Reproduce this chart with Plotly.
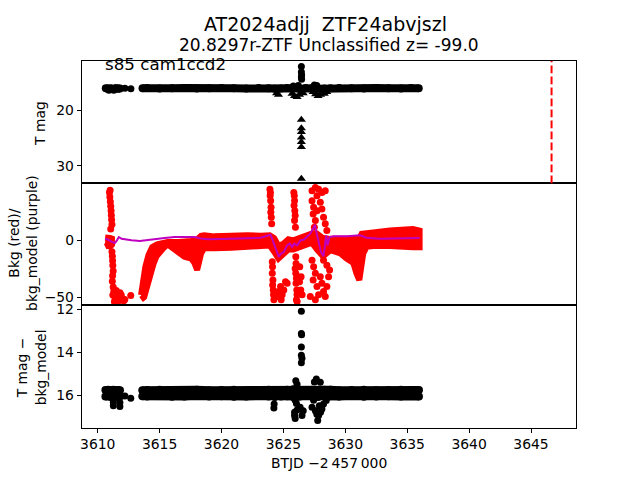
import plotly.graph_objects as go

# ---------------- data ----------------
# top panel: T mag light curve (band nodes, None = gap)
tmag_t = [3610.65, 3610.85, 3611.05, 3611.25, 3611.45, 3611.65, 3611.8, None,
          3613.62, 3614.0, 3615.0, 3616.0, 3617.0, 3618.0, 3619.0, 3620.0, 3621.0, 3622.0,
          3623.0, 3623.8, 3624.3, 3624.8, 3625.3, 3625.8, 3626.3, 3626.8, 3627.3, 3627.8,
          3628.3, 3628.8, 3629.5, 3630.5, 3631.5, 3632.5, 3633.5, 3634.5, 3635.3, 3635.93]
tmag_v = [16.0, 16.1, 16.0, 16.15, 16.0, 16.1, 16.05, None,
          16.0, 15.95, 16.05, 16.0, 15.95, 16.05, 16.0, 15.95, 16.0, 16.05,
          15.95, 16.0, 16.1, 16.05, 15.95, 16.0, 16.1, 15.95, 16.0, 16.1,
          16.05, 16.0, 15.95, 16.0, 16.05, 15.95, 16.0, 16.05, 15.95, 16.0]
# top panel: individual detections
tpts_t = [3610.9, 3611.3, 3612.2, 3612.68, 3625.8, 3626.2, 3627.5, 3627.7,
          3626.45, 3626.45, 3626.47, 3626.45, 3626.47]
tpts_v = [16.35, 16.35, 16.0, 16.1, 15.6, 15.5, 15.4, 15.5,
          12.1, 13.1, 13.6, 14.0, 14.4]
# top panel: upper limits (triangles)
tlim_t = [3624.45, 3624.6, 3625.7, 3625.9, 3626.1, 3626.3, 3626.6, 3627.4, 3627.6,
          3627.8, 3628.0, 3628.3, 3628.5,
          3626.45, 3626.45, 3626.45, 3626.45, 3626.45, 3626.45, 3626.45]
tlim_v = [16.9, 17.2, 17.0, 17.4, 17.6, 17.2, 16.9, 16.7, 17.1,
          17.4, 17.2, 17.0, 16.7,
          21.7, 23.2, 23.9, 24.9, 25.7, 26.6, 32.3]
peak_t = 3646.66

# middle panel: background (red) scatter envelope (upper / lower edge)
bkg_left_t = [3610.6, 3610.8, 3611.0, 3611.15]
bkg_left_hi = [2.5, 2.7, 2.0, 1.5]
bkg_left_lo = [-5.5, -4.5, -5.7, -4.0]
bkg_hi_t = [3613.5, 3613.65, 3613.85, 3614.1, 3614.4, 3614.8, 3615.25, 3615.65, 3616.5,
            3617.0, 3617.55, 3617.8, 3618.03, 3618.15, 3618.35, 3618.6, 3619.4, 3620.8,
            3622.1, 3623.2, 3623.9, 3624.25, 3624.6, 3625.0, 3625.4, 3625.8, 3626.3,
            3626.8, 3627.3, 3627.7, 3628.2, 3628.8, 3629.6, 3630.65, 3631.13, 3631.32,
            3631.72, 3632.25, 3633.6, 3634.9, 3635.46, 3636.0]
bkg_hi = [-48, -35, -23, -13, -6, -3.5, -2.5, -1.5, -1.5,
          -1.5, -0.5, 0, 1, 2, 4, 4.5, 3.5, 4.5,
          4.5, 4, 4.5, 2, -5, -3, 1, 0, 2,
          4, 6, 6, 2, 1.3, 1.3, 1.3, 1.5, 5.7,
          6.5, 7, 8.6, 9.5, 10, 8.6]
bkg_lo_t = [3613.5, 3613.75, 3614.0, 3614.25, 3614.5, 3614.75, 3615.0, 3615.3, 3615.65,
            3615.95, 3616.5, 3617.0, 3617.55, 3617.8, 3618.03, 3618.15, 3618.35, 3618.6,
            3619.4, 3620.8, 3622.1, 3623.2, 3623.9, 3624.25, 3624.6, 3625.0, 3625.4,
            3625.8, 3626.3, 3626.8, 3627.3, 3627.7, 3628.2, 3628.8, 3629.6, 3630.1,
            3630.65, 3630.9, 3631.13, 3631.32, 3631.45, 3631.72, 3632.25, 3633.6, 3634.9,
            3635.46, 3636.0]
bkg_lo = [-52, -50, -42, -31, -21, -14, -10, -7, -3.5,
          -5.7, -11, -14.5, -16, -19.7, -26, -24.6, -11.5, -7,
          -7, -6.5, -6, -5, -4.5, -10, -16, -12, -8,
          -8, -6, -4, -2, -8, -14, -8.6, -11.5, -16,
          -20, -29, -34.8, -26, -11.5, -5.7, -5, -5, -5.5,
          -6, -6]
# middle panel: background outliers
bpts_t = [3610.95, 3611.0, 3610.98, 3611.02, 3611.05, 3611.08, 3611.1, 3611.12, 3611.15,
          3611.05, 3611.15, 3611.18, 3611.2, 3611.22, 3611.25, 3611.2, 3611.18, 3611.25,
          3611.3, 3611.22, 3611.4, 3611.55, 3611.7, 3611.8, 3611.9, 3612.0, 3612.1, 3612.19,
          3611.5, 3611.35, 3612.67,
          3623.91, 3623.95, 3623.93, 3623.97, 3624.0, 3623.98, 3624.02, 3624.05, 3624.1,
          3624.12, 3624.1, 3624.15, 3624.13, 3624.18, 3624.2, 3624.23, 3624.5, 3624.63,
          3624.77, 3624.82, 3624.9, 3625.03, 3625.17, 3625.3,
          3625.84, 3625.88, 3625.9, 3625.86, 3625.92, 3625.95, 3625.9, 3625.97, 3626.0,
          3626.02, 3625.95, 3626.0, 3626.05, 3626.02, 3626.08, 3626.1, 3626.05, 3626.11,
          3626.32, 3626.43, 3626.4, 3626.51, 3626.3,
          3627.31, 3627.58, 3627.84, 3628.11, 3628.38, 3627.71, 3627.31, 3627.44, 3627.4,
          3627.58, 3627.5, 3627.71, 3627.98, 3628.11, 3628.24, 3628.38, 3628.51, 3627.31,
          3627.44, 3627.58, 3627.4, 3627.71, 3627.98, 3628.11, 3628.24, 3628.38, 3628.51,
          3628.65, 3628.73, 3628.51, 3627.84, 3627.17, 3627.58, 3628.24]
bpts_v = [42, 44, 38, 34, 30, 26, 22, 18, 14,
          10, -10, -14, -18, -22, -27, -31, -36, -41,
          -45, -48, -52, -50, -53, -46, -48, -51, -53, -52,
          -44, -54, -48.5,
          44.9, 42.1, 39.2, 34.8, 29.0, 24.7, 20.3, 14.5, -18.9,
          -23.3, -29.0, -34.8, -39.2, -43.6, -47.9, -52.3, -49.4, -45.0,
          -40.6, -52.3, -47.9, -43.6, -36.3, -37.7,
          42.1, 39.2, 34.8, 30.5, 26.1, 21.8, 17.4, 11.6, -14.5,
          -20.3, -24.7, -29.0, -33.4, -37.7, -43.6, -47.9, -52.3, -53.7,
          -23.2, -31.9, -43.6, -47.9, -36.3,
          43.5, 46.4, 44.9, 42.1, 43.5, 39.2, 34.8, 29.0, 23.2,
          17.4, 11.6, 26.1, 33.4, 27.6, 20.3, 14.5, 8.7, -17.4,
          -23.2, -29.0, -34.8, -40.6, -31.9, -37.7, -45.0, -49.4, -40.6,
          -31.9, -26.1, -21.8, -47.9, -49.4, -52.3, -17.4]
# middle panel: background model (purple)
model_t = [3610.6, 3610.86, 3611.18, 3611.39, 3611.55, 3611.71, 3611.93, 3612.33, 3612.73,
           3613.4, 3614.07, 3614.73, 3615.4, 3616.21, 3617.01, 3617.81, 3618.35, 3618.88,
           3619.95, 3621.02, 3622.09, 3623.16, 3623.96, 3624.18, 3624.37, 3624.63, 3624.82,
           3625.03, 3625.3, 3625.51, 3625.7, 3625.89, 3626.11, 3626.37, 3626.64, 3626.91,
           3627.17, 3627.39, 3627.55, 3627.66, 3627.84, 3628.03, 3628.24, 3628.38, 3628.46,
           3628.56, 3628.73, 3629.05, 3630.12, 3631.19, 3631.72, 3632.79, 3634.13, 3635.2, 3636.0]
model_v = [1.4, 0.5, -1.5, -2.4, 0.0, 2.9, 1.4, 0.5, 0.0,
           -0.6, 0.0, 1.1, 2.0, 2.9, 2.9, 2.9, 1.7, 0.9,
           1.1, 1.4, 1.7, 2.3, 4.9, -1.5, -7.3, -14.5, -11.6,
           -10.2, -4.4, -2.9, -5.8, -2.9, -4.4, 0.0, 0.5, 2.9,
           5.8, 10.2, 13.7, 7.3, -2.9, -10.2, -13.9, 0.0, 4.4,
           -4.4, 2.9, 3.5, 3.5, 4.4, 2.3, 1.4, 1.7, 1.4, 2.0]

# bottom panel: T mag - bkg_model (band nodes: upper and lower rows)
sub_t = [3610.62, 3610.85, 3611.05, 3611.25, 3611.45, 3611.65, 3611.8, None,
         3613.6, 3614.0, 3615.0, 3616.0, 3617.0, 3618.0, 3619.0, 3620.0, 3621.0, 3622.0,
         3623.0, 3623.8, 3624.3, 3624.8, 3625.3, 3625.8, 3626.3, 3626.8, 3627.3, 3627.8,
         3628.3, 3628.8, 3629.5, 3630.5, 3631.5, 3632.5, 3633.5, 3634.5, 3635.3, 3635.95]
sub_hi = [15.77, 15.75, 15.78, 15.76, 15.78, 15.77, 15.78, None,
          15.78, 15.77, 15.76, 15.78, 15.77, 15.75, 15.78, 15.77, 15.76, 15.78,
          15.77, 15.76, 15.78, 15.77, 15.76, 15.73, 15.75, 15.77, 15.75, 15.77,
          15.76, 15.75, 15.78, 15.77, 15.76, 15.78, 15.77, 15.76, 15.78, 15.77]
sub_lo = [16.07, 16.05, 16.09, 16.06, 16.07, 16.09, 16.07, None,
          16.06, 16.07, 16.05, 16.08, 16.07, 16.05, 16.07, 16.06, 16.08, 16.07,
          16.05, 16.07, 16.09, 16.07, 16.06, 16.09, 16.07, 16.05, 16.07, 16.09,
          16.07, 16.06, 16.07, 16.05, 16.08, 16.07, 16.06, 16.07, 16.05, 16.07]
spts_t = [3611.26, 3611.26, 3611.79, 3611.79, 3612.2, 3612.67, 3624.23, 3624.25, 3625.9,
          3625.95, 3626.5, 3626.35, 3625.95, 3626.6, 3626.0, 3626.1, 3626.05, 3626.1, 3625.9,
          3626.45, 3626.45, 3626.47, 3626.45, 3626.45, 3626.5, 3626.45,
          3627.66, 3627.98, 3627.77, 3627.84, 3627.58, 3627.31, 3628.11, 3628.24, 3628.46,
          3627.44, 3627.5, 3627.9, 3627.7, 3628.0]
spts_v = [16.35, 16.5, 16.35, 16.54, 16.05, 16.15, 16.6, 16.42, 16.96,
          17.1, 16.96, 16.57, 16.24, 16.73, 15.34, 15.5, 16.4, 16.7, 16.8,
          12.1, 13.14, 13.2, 13.77, 14.15, 14.29, 14.5,
          15.26, 15.41, 17.19, 16.96, 16.73, 16.57, 16.65, 16.42, 16.26,
          16.24, 15.4, 16.5, 16.9, 16.8]

x_ticks = [3610, 3615, 3620, 3625, 3630, 3635, 3640, 3645]
top_ticks = [20, 30]
mid_ticks = [-50, 0]
mid_ticktext = ["\u221250", "0"]
bot_ticks = [12, 14, 16]

title_line1 = "AT2024adjj\u00a0 ZTF24abvjszl"
title_line2 = "20.8297r-ZTF Unclassified z= -99.0"
label_text = "s85 cam1ccd2"

# ---------------- figure ----------------
FONT = "DejaVu Sans"
RED = "#ff0000"
PURPLE = "#bf00bf"
fig = go.Figure()

# top
fig.add_trace(go.Scatter(x=tmag_t, y=tmag_v, mode="lines+markers", connectgaps=False,
                         line=dict(color="black", width=8), marker=dict(color="black", size=8),
                         xaxis="x", yaxis="y"))
fig.add_trace(go.Scatter(x=tpts_t, y=tpts_v, mode="markers",
                         marker=dict(color="black", size=7), xaxis="x", yaxis="y"))
fig.add_trace(go.Scatter(x=tlim_t, y=tlim_v, mode="markers",
                         marker=dict(color="black", size=8, symbol="triangle-up"),
                         xaxis="x", yaxis="y"))

# middle
fig.add_trace(go.Scatter(x=bkg_left_t + bkg_left_t[::-1], y=bkg_left_hi + bkg_left_lo[::-1],
                         mode="lines", fill="toself", fillcolor=RED,
                         line=dict(color=RED, width=6), xaxis="x2", yaxis="y2"))
fig.add_trace(go.Scatter(x=bkg_hi_t + bkg_lo_t[::-1], y=bkg_hi + bkg_lo[::-1],
                         mode="lines", fill="toself", fillcolor=RED,
                         line=dict(color=RED, width=6), xaxis="x2", yaxis="y2"))
fig.add_trace(go.Scatter(x=bpts_t, y=bpts_v, mode="markers",
                         marker=dict(color=RED, size=7), xaxis="x2", yaxis="y2"))
fig.add_trace(go.Scatter(x=model_t, y=model_v, mode="lines",
                         line=dict(color=PURPLE, width=2), xaxis="x2", yaxis="y2"))

# bottom
for row in (sub_hi, sub_lo):
    fig.add_trace(go.Scatter(x=sub_t, y=row, mode="lines+markers", connectgaps=False,
                             line=dict(color="black", width=8),
                             marker=dict(color="black", size=8),
                             xaxis="x3", yaxis="y3"))
fig.add_trace(go.Scatter(x=spts_t, y=spts_v, mode="markers",
                         marker=dict(color="black", size=7), xaxis="x3", yaxis="y3"))

fig.update_traces(showlegend=False, hoverinfo="skip")

XR = [3608.71, 3648.65]
XD = [0.125, 0.9]
frame = dict(showline=True, linecolor="black", linewidth=1, mirror=True,
             showgrid=False, zeroline=False)
tickstyle = dict(ticks="outside", ticklen=4, tickwidth=1, tickcolor="black",
                 tickfont=dict(family=FONT, size=13.9, color="black"))

fig.update_layout(
    width=640, height=480, autosize=False,
    margin=dict(l=0, r=0, t=0, b=0),
    paper_bgcolor="white", plot_bgcolor="white",
    font=dict(family=FONT, size=13.9, color="black"),
    xaxis=dict(domain=XD, anchor="y", range=XR, showticklabels=False, ticks="", **frame),
    xaxis2=dict(domain=XD, anchor="y2", range=XR, showticklabels=False, ticks="", **frame),
    xaxis3=dict(domain=XD, anchor="y3", range=XR, tickvals=x_ticks, **frame, **tickstyle),
    yaxis=dict(domain=[0.6233, 0.88], anchor="x", range=[33.13, 11.12], tickvals=top_ticks,
               **frame, **tickstyle),
    yaxis2=dict(domain=[0.3667, 0.6233], anchor="x2", range=[-57.2, 50.1], tickvals=mid_ticks,
                ticktext=mid_ticktext, **frame, **tickstyle),
    yaxis3=dict(domain=[0.11, 0.3667], anchor="x3", range=[17.52, 11.83], tickvals=bot_ticks,
                **frame, **tickstyle),
    shapes=[dict(type="line", xref="x", yref="y domain", x0=peak_t, x1=peak_t, y0=0, y1=1,
                 line=dict(color=RED, width=2, dash="7.7px,3.3px"))],
)

ann = [
    dict(text=title_line1, x=324.5 / 640, y=1 - 20.5 / 480, xanchor="center",
         yanchor="middle", font=dict(size=19)),
    dict(text=title_line2, x=328 / 640, y=1 - 41.5 / 480, xanchor="center",
         yanchor="middle", font=dict(size=17)),
    dict(text=label_text, x=102 / 640, y=1 - 61 / 480, xanchor="left", yanchor="middle",
         font=dict(size=16.7)),
    dict(text="T mag", x=38 / 640, y=1 - 120 / 480, textangle=-90, xanchor="center",
         yanchor="middle"),
    dict(text="Bkg (red)/<br>bkg_model (purple)", x=21 / 640, y=1 - 241 / 480, textangle=-90,
         xanchor="center", yanchor="middle"),
    dict(text="T mag \u2212<br>bkg_model", x=29.5 / 640, y=1 - 366 / 480, textangle=-90,
         xanchor="center", yanchor="middle"),
    dict(text="BTJD \u22122\u2009457\u2009000", x=328 / 640, y=1 - 463 / 480,
         xanchor="center", yanchor="middle"),
]
for a in ann:
    a.update(xref="paper", yref="paper", showarrow=False, borderpad=0)
    size = a.get("font", {}).get("size", 13.9)
    a["font"] = dict(family=FONT, color="black", size=size)
fig.update_layout(annotations=ann)

fig.write_html("out.html")
